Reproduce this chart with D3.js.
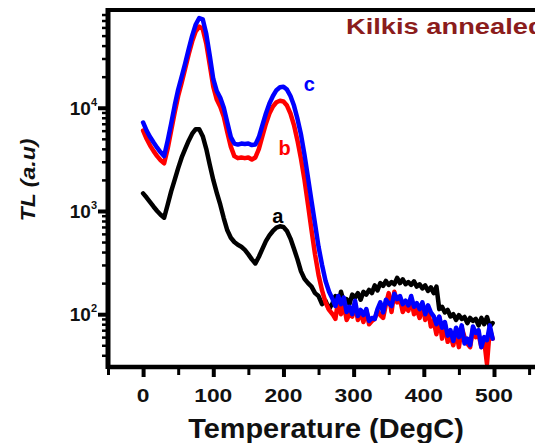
<!DOCTYPE html>
<html><head><meta charset="utf-8">
<script src="https://cdn.jsdelivr.net/npm/d3@7"></script>
<style>html,body{margin:0;padding:0;background:#fff;overflow:hidden}</style>
</head><body><svg id="chart" width="535" height="443"></svg>
<script>
// ---- data ----
const tempsSmooth = [0,5,10,15,20,25,30,35,40,45,50,55,60,65,70,75,80,85,90,95,100,105,110,115,120,125,130,135,140,145,150,155,160,165,170,175,180,185,190,195,200,205,210,215,220,225,230,235,240,245,250,255,260,265,270];
const tempsTail = [274,278,282,286,290,294,298,302,306,310,314,318,322,326,330,334,338,342,346,350,354,358,362,366,370,374,378,382,386,390,394,398,402,406,410,414,418,422,426,430,434,438,442,446,450,454,458,462,466,470,474,478,482,486,490,494,498];
const seriesC = [7200,6000,5200,4600,4100,3700,3400,4800,7000,10500,15000,20000,27000,37000,50000,64000,74000,72000,52000,32000,19000,14500,12500,10000,7200,5200,4500,4400,4500,4450,4500,4350,4400,5200,6800,8800,11000,13000,14800,15800,16000,15000,13000,10500,7800,5500,3500,2100,1250,750,450,300,210,165,140,
  120,150,125,145,105,118,100,135,96,110,98,112,86,92,90,112,130,104,138,128,120,158,140,150,125,135,122,150,118,128,112,130,100,122,104,96,80,95,74,84,62,70,55,74,60,78,52,58,50,76,66,70,48,60,56,78,58];
const seriesB = [6000,5000,4300,3800,3400,3100,2900,4000,6000,9000,13000,17500,24000,33000,44000,55000,61000,58000,42000,26000,16000,12000,10200,8200,5800,4200,3400,3250,3300,3250,3300,3150,3300,4000,5300,7000,8800,10300,11300,11700,11500,10500,8800,6800,4800,3200,2000,1150,650,380,240,170,130,110,100,
  90,135,100,125,88,100,95,128,88,104,84,110,80,86,90,108,98,92,125,160,105,165,130,140,105,118,108,140,100,112,92,125,88,112,76,86,64,94,58,80,54,62,50,70,48,74,60,52,48,72,60,64,48,56,33,72,58];
const seriesA = [1480,1350,1220,1100,1000,920,860,1150,1550,2000,2600,3300,4000,4800,5600,6200,6200,5300,4000,2800,2000,1500,1150,850,650,550,500,470,450,420,380,340,310,360,430,510,580,640,690,710,700,640,540,430,340,260,220,200,185,160,150,125,135,112,128,
  150,120,165,130,140,125,155,145,160,138,165,155,172,160,190,170,200,188,210,192,205,195,225,200,218,195,205,192,208,185,195,178,190,168,182,160,185,112,118,104,110,95,100,88,98,90,94,82,92,86,90,78,92,80,94,76,82];
const xTicks = [0,100,200,300,400,500];
const yTicks = [100,1000,10000];
const yTickExp = ["2","3","4"];
const curveLabels = ["a","b","c"];
const titleText = "Kilkis annealed";

// ---- layout ----
const svg = d3.select("#chart");
const temps = tempsSmooth.concat(tempsTail);
const x = d3.scaleLinear().domain([-50, 500]).range([108, 494]);
const y = d3.scaleLog().domain([30.8, 88500]).range([367, 10]);
const xLeft = x(-50), yBottom = y(30.8), yTop = y(88500);

const font = "'Liberation Sans', Arial, sans-serif";
function stretch(sel, f) {
  sel.each(function() {
    const w = this.getComputedTextLength();
    d3.select(this).attr("textLength", w * f).attr("lengthAdjust", "spacingAndGlyphs");
  });
}

// curves
const line = d3.line().x(d => x(d[0])).y(d => y(d[1]));
const series = [
  {vals: seriesA, color: "#000000"},
  {vals: seriesB, color: "#ff0000"},
  {vals: seriesC, color: "#0000ff"}
];
series.forEach(s => {
  svg.append("path")
    .datum(temps.map((t, i) => [t, s.vals[i]]))
    .attr("d", line).attr("fill", "none")
    .attr("stroke", s.color).attr("stroke-width", 4.5)
    .attr("stroke-linejoin", "round").attr("stroke-linecap", "round");
});

// frame: top line
svg.append("line").attr("x1", xLeft).attr("x2", 535).attr("y1", yTop).attr("y2", yTop)
  .attr("stroke", "#000").attr("stroke-width", 4);

// x axis
const xAxis = d3.axisBottom(x).tickValues(d3.range(-50, 551, 50)).tickSize(9).tickFormat("");
const gx = svg.append("g").attr("transform", `translate(0,${yBottom})`).call(xAxis);
gx.select(".domain").remove();
gx.selectAll(".tick line").attr("stroke", "#000").attr("stroke-width", d => d % 100 === 0 ? 4 : 3)
  .attr("y2", d => d % 100 === 0 ? 10 : 8);
svg.append("line").attr("x1", xLeft).attr("x2", 535).attr("y1", yBottom).attr("y2", yBottom)
  .attr("stroke", "#000").attr("stroke-width", 4.5);
const xl = svg.selectAll(".xlab").data(xTicks).enter().append("text")
  .attr("x", d => x(d)).attr("y", 402).attr("text-anchor", "middle")
  .attr("font-family", font).attr("font-weight", "bold").attr("font-size", 19)
  .attr("fill", "#111").text(d => d);
stretch(xl, 1.2);

// y axis
const minorY = [];
for (let e = 1; e <= 4; e++) for (let m = 1; m <= 9; m++) {
  const v = m * Math.pow(10, e);
  if (v >= 30.8 && v <= 88500) minorY.push(v);
}
const yAxis = d3.axisLeft(y).tickValues(minorY).tickSize(6).tickFormat("");
const gy = svg.append("g").attr("transform", `translate(${xLeft},0)`).call(yAxis);
gy.select(".domain").remove();
gy.selectAll(".tick line").attr("stroke", "#000").attr("stroke-width", d => yTicks.includes(d) ? 4 : 2.5)
  .attr("x2", d => yTicks.includes(d) ? -10 : -6);
svg.append("line").attr("x1", xLeft).attr("x2", xLeft).attr("y1", yTop - 2).attr("y2", yBottom + 2)
  .attr("stroke", "#000").attr("stroke-width", 5);

const yl = svg.selectAll(".ylab").data(yTicks).enter().append("text")
  .attr("x", 97).attr("y", d => y(d) + 7).attr("text-anchor", "end")
  .attr("font-family", font).attr("font-weight", "bold").attr("font-size", 19).attr("fill", "#111");
yl.append("tspan").text("10");
yl.append("tspan").attr("font-size", 11).attr("dy", -9).text((d, i) => yTickExp[i]);

// axis titles
const xt = svg.append("text").attr("x", 326).attr("y", 438).attr("text-anchor", "middle")
  .attr("font-family", font).attr("font-weight", "bold").attr("font-size", 27)
  .attr("fill", "#111").text("Temperature (DegC)");
stretch(xt, 1.07);
const ytl = svg.append("text").attr("transform", `translate(35,180) rotate(-90)`).attr("text-anchor", "middle")
  .attr("font-family", font).attr("font-weight", "bold").attr("font-style", "italic").attr("font-size", 21)
  .attr("fill", "#111").text("TL (a.u)");
stretch(ytl, 1.1);

// title
const tt = svg.append("text").attr("x", 346).attr("y", 34)
  .attr("font-family", font).attr("font-weight", "bold").attr("font-size", 22)
  .attr("fill", "#8b1c1c").text(titleText);
stretch(tt, 1.24);

// curve labels
const labelPos = [[184, 760, "#000000"], [193, 3450, "#ff0000"], [229, 14500, "#0000ff"]];
svg.selectAll(".clab").data(curveLabels).enter().append("text")
  .attr("x", (d, i) => x(labelPos[i][0])).attr("y", (d, i) => y(labelPos[i][1]))
  .attr("font-family", font).attr("font-weight", "bold").attr("font-size", 20)
  .attr("fill", (d, i) => labelPos[i][2]).text(d => d);
</script></body></html>
